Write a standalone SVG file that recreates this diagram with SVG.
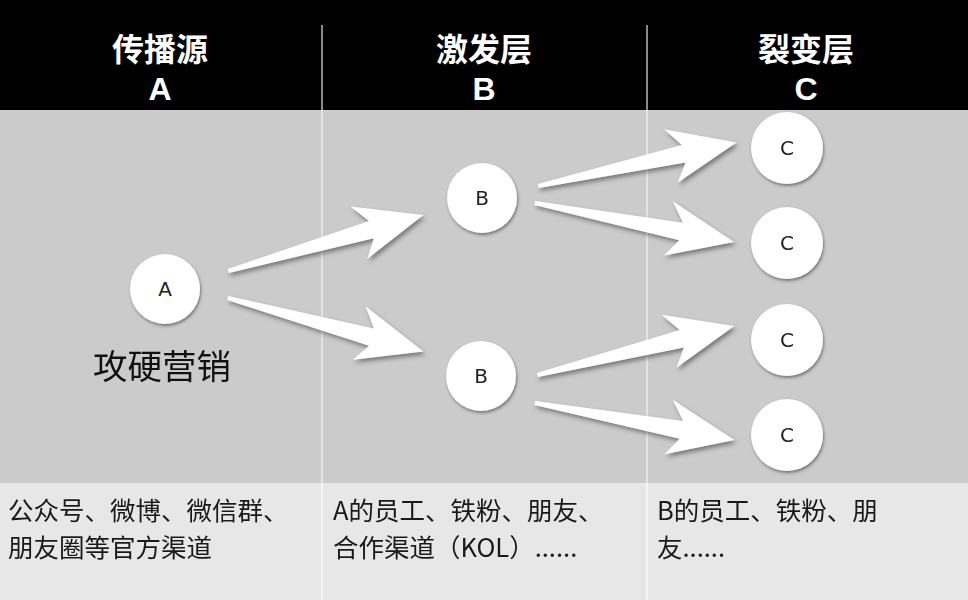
<svg xmlns="http://www.w3.org/2000/svg" xmlns:xlink="http://www.w3.org/1999/xlink" width="968" height="600" viewBox="0 0 968 600">
<style>
.hd{font-family:"Noto Sans CJK SC",sans-serif;font-weight:bold;fill:#fff;text-anchor:middle;font-size:32px}
.hl{font-family:"Liberation Sans",Arial,sans-serif;font-weight:bold;fill:#fff;text-anchor:middle;font-size:32px}
.nd circle{fill:#fff}
.nd text{font-family:"DejaVu Sans","Liberation Sans",sans-serif;font-size:20px;fill:#222;text-anchor:middle}
.bt{font-family:"Noto Sans CJK SC","Liberation Sans",sans-serif;font-size:25.5px;fill:#1a1a1a}
.arr{fill:#fff}
</style>
<defs>
<filter id="sh" x="-20%" y="-30%" width="150%" height="170%">
<feDropShadow dx="2" dy="3" stdDeviation="2" flood-color="#444" flood-opacity="0.6"/>
</filter>
<filter id="nsh" x="-30%" y="-30%" width="160%" height="160%">
<feDropShadow dx="1" dy="2" stdDeviation="1.5" flood-color="#333" flood-opacity="0.55"/>
</filter>
<path id="ar" d="M0,-1 L149,-9 L135,-28 L203,0 L137,27 L149,9 L0,3 Z"/>
</defs>
<rect x="0" y="0" width="968" height="110" fill="#000"/>
<rect x="0" y="110" width="968" height="373" fill="#cbcbcb"/>
<rect x="0" y="483" width="968" height="117" fill="#e7e7e7"/>
<g id="dividers">
<line x1="322" y1="25" x2="322" y2="110" stroke="#8a8a8a" stroke-width="2"/>
<line x1="647" y1="25" x2="647" y2="110" stroke="#8a8a8a" stroke-width="2"/>
<line x1="322" y1="110" x2="322" y2="483" stroke="#e4e4e4" stroke-width="2"/>
<line x1="647" y1="110" x2="647" y2="483" stroke="#e4e4e4" stroke-width="2"/>
<line x1="322" y1="483" x2="322" y2="600" stroke="#f4f4f4" stroke-width="2"/>
<line x1="647" y1="483" x2="647" y2="600" stroke="#f4f4f4" stroke-width="2"/>
</g>
<g id="headers">
<text class="hd" x="160" y="60.5">传播源</text>
<text class="hl" x="160" y="99.5">A</text>
<text class="hd" x="484" y="60.5">激发层</text>
<text class="hl" x="484" y="99.5">B</text>
<text class="hd" x="806" y="60.5">裂变层</text>
<text class="hl" x="806" y="99.5">C</text>
</g>
<g id="connectors" filter="url(#sh)">
<use xlink:href="#ar" class="arr" transform="translate(228,270) rotate(-15.7)"/>
<use xlink:href="#ar" class="arr" transform="translate(228,297) rotate(15.6)"/>
<use xlink:href="#ar" class="arr" transform="translate(538,185) rotate(-12.1)"/>
<use xlink:href="#ar" class="arr" transform="translate(535,202) rotate(11.4)"/>
<use xlink:href="#ar" class="arr" transform="translate(537,374) rotate(-13.7)"/>
<use xlink:href="#ar" class="arr" transform="translate(535,402) rotate(10.8)"/>
</g>
<g id="nodeA" class="nd"><circle cx="165" cy="289" r="35" filter="url(#nsh)"/><text x="165" y="296">A</text></g>
<g id="nodeB1" class="nd"><circle cx="482" cy="198" r="35" filter="url(#nsh)"/><text x="482" y="205">B</text></g>
<g id="nodeB2" class="nd"><circle cx="481" cy="376" r="35" filter="url(#nsh)"/><text x="481" y="383">B</text></g>
<g id="nodeC1" class="nd"><circle cx="787" cy="148" r="36" filter="url(#nsh)"/><text x="787" y="155">C</text></g>
<g id="nodeC2" class="nd"><circle cx="787" cy="243" r="36" filter="url(#nsh)"/><text x="787" y="250">C</text></g>
<g id="nodeC3" class="nd"><circle cx="787" cy="340" r="36" filter="url(#nsh)"/><text x="787" y="347">C</text></g>
<g id="nodeC4" class="nd"><circle cx="787" cy="435" r="36" filter="url(#nsh)"/><text x="787" y="442">C</text></g>
<text x="93" y="379" font-family="Noto Sans CJK SC,sans-serif" font-size="34.5" fill="#111">攻硬营销</text>
<g id="bottom" class="bt">
<text x="8" y="520">公众号、微博、微信群、</text>
<text x="8" y="557">朋友圈等官方渠道</text>
<text x="333" y="520">A的员工、铁粉、朋友、</text>
<text x="333" y="557">合作渠道（KOL）......</text>
<text x="657" y="520">B的员工、铁粉、朋</text>
<text x="657" y="557">友......</text>
</g>
</svg>
